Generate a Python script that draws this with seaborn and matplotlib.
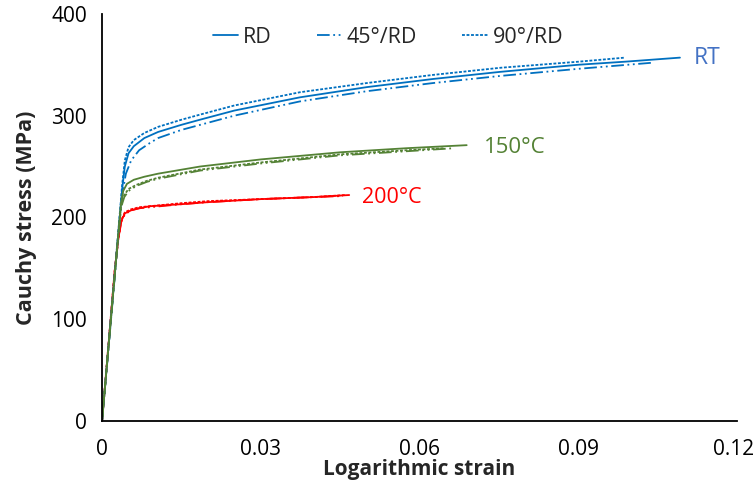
import pandas as pd
import matplotlib
matplotlib.use("Agg")
import matplotlib.pyplot as plt
import matplotlib.transforms as mtransforms
from matplotlib.lines import Line2D
import seaborn as sns

# --- Curve data (strain, Cauchy stress in MPa) ---
rt_rd_strain = [0, 0.0015, 0.003, 0.0038, 0.0043, 0.005, 0.006, 0.008, 0.0106, 0.015, 0.0185,
                0.025, 0.0374, 0.05, 0.0625, 0.0752, 0.09, 0.0988, 0.1092]
rt_rd_stress = [0, 90, 180, 228, 250, 263, 270, 278, 284, 291, 296, 305, 318, 328, 336, 343, 350, 353, 357]

rt_45_strain = [0, 0.0015, 0.003, 0.0038, 0.0045, 0.0055, 0.007, 0.009, 0.0106, 0.015, 0.02,
                0.025, 0.0374, 0.05, 0.0625, 0.0752, 0.09, 0.104]
rt_45_stress = [0, 88, 178, 222, 243, 256, 266, 273, 278, 286, 293, 300, 314, 324, 332, 339, 346, 352]

rt_90_strain = [0, 0.0015, 0.003, 0.0038, 0.0043, 0.005, 0.006, 0.008, 0.0106, 0.015, 0.0185,
                0.025, 0.0374, 0.05, 0.0625, 0.0752, 0.09, 0.0988]
rt_90_stress = [0, 92, 182, 232, 256, 269, 276, 283, 289, 296, 301, 310, 323, 332, 340, 347, 353, 357]

t150_rd_strain = [0, 0.0015, 0.003, 0.0036, 0.004, 0.0047, 0.006, 0.008, 0.0106, 0.0185, 0.03,
                  0.045, 0.0575, 0.0689]
t150_rd_stress = [0, 90, 180, 215, 226, 233, 237, 240, 243, 250, 257, 264, 268, 271]

t150_45_strain = [0, 0.0015, 0.003, 0.0036, 0.0042, 0.005, 0.0065, 0.0085, 0.0106, 0.0185, 0.03,
                  0.045, 0.0575, 0.0665]
t150_45_stress = [0, 90, 178, 210, 220, 226, 231, 235, 238, 246, 253, 261, 265, 268]

t150_90_strain = [0, 0.0015, 0.003, 0.0036, 0.0042, 0.005, 0.0065, 0.0085, 0.0106, 0.0185, 0.03,
                  0.045, 0.0575, 0.0648]
t150_90_stress = [0, 90, 179, 212, 222, 228, 232, 236, 239, 247, 254, 262, 266, 268]

t200_rd_strain = [0, 0.0015, 0.0024, 0.003, 0.0036, 0.0043, 0.0055, 0.007, 0.009, 0.015, 0.02,
                  0.03, 0.04, 0.0467]
t200_rd_stress = [0, 92, 148, 176, 196, 204, 207, 209, 211, 213, 215, 218, 220, 222]

t200_45_strain = [0, 0.0015, 0.0024, 0.003, 0.0036, 0.0043, 0.0055, 0.007, 0.009, 0.015, 0.02,
                  0.03, 0.04, 0.0455]
t200_45_stress = [0, 91, 147, 175, 195, 203, 207, 209, 210, 213, 215, 218, 220, 221]

t200_90_strain = [0, 0.0015, 0.0024, 0.003, 0.0036, 0.0043, 0.0055, 0.007, 0.009, 0.015, 0.02,
                  0.03, 0.04, 0.046]
t200_90_stress = [0, 93, 149, 177, 197, 205, 208, 210, 211, 214, 216, 218, 220, 222]

temperatures = ["200°C", "RT", "150°C"]
directions = ["RD", "45°/RD", "90°/RD"]
x_ticks = [0, 0.03, 0.06, 0.09, 0.12]
x_tick_labels = ["0", "0.03", "0.06", "0.09", "0.12"]
y_ticks = [0, 100, 200, 300, 400]

# --- Long-form table ---
curves = [
    ("RT", "RD", rt_rd_strain, rt_rd_stress),
    ("RT", "45°/RD", rt_45_strain, rt_45_stress),
    ("RT", "90°/RD", rt_90_strain, rt_90_stress),
    ("150°C", "RD", t150_rd_strain, t150_rd_stress),
    ("150°C", "45°/RD", t150_45_strain, t150_45_stress),
    ("150°C", "90°/RD", t150_90_strain, t150_90_stress),
    ("200°C", "RD", t200_rd_strain, t200_rd_stress),
    ("200°C", "45°/RD", t200_45_strain, t200_45_stress),
    ("200°C", "90°/RD", t200_90_strain, t200_90_stress),
]
frames = []
for temp, direc, eps, sig in curves:
    frames.append(pd.DataFrame({"strain": eps, "stress": sig, "Temp": temp, "Direction": direc}))
df = pd.concat(frames, ignore_index=True)

# --- Style ---
sns.set_style("white")
plt.rcParams["font.family"] = ["Open Sans", "DejaVu Sans"]

line_colors = {"RT": "#0070C0", "150°C": "#548235", "200°C": "#FF0000"}
label_colors = {"RT": "#4472C4", "150°C": "#548235", "200°C": "#FF0000"}
dash_styles = {"RD": "", "45°/RD": (7, 2, 1, 2, 1, 2), "90°/RD": (1.6, 0.9)}

fig, ax = plt.subplots(figsize=(7.56, 4.95), dpi=100)
fig.subplots_adjust(left=0.135, right=0.975, top=0.972, bottom=0.1495)

sns.lineplot(
    data=df, x="strain", y="stress",
    hue="Temp", hue_order=temperatures, palette=line_colors,
    style="Direction", style_order=directions, dashes=dash_styles,
    estimator=None, sort=False, linewidth=1.3, legend=False, ax=ax
)

ax.set_xlim(0, 0.12)
ax.set_ylim(0, 400)
ax.set_xticks(x_ticks)
ax.set_xticklabels(x_tick_labels)
ax.set_yticks(y_ticks)
ax.tick_params(direction="in", length=6, width=1.2, color="#7f7f7f",
               labelsize=15, labelcolor="black")
ax.tick_params(axis="x", pad=13)
ax.tick_params(axis="y", pad=11)
for side in ["top", "right"]:
    ax.spines[side].set_visible(False)
for side in ["left", "bottom"]:
    ax.spines[side].set_color("black")
    ax.spines[side].set_linewidth(1.3)

# keep the last x tick label inside the figure edge
last = ax.get_xticklabels()[-1]
last.set_transform(last.get_transform() + mtransforms.ScaledTranslation(-4 / 100, 0, fig.dpi_scale_trans))

ax.set_xlabel("Logarithmic strain", fontsize=15, fontweight="bold", labelpad=-1)
ax.set_ylabel("Cauchy stress (MPa)", fontsize=15.5, fontweight="bold", labelpad=10)

# --- Temperature labels at curve ends ---
ax.text(0.1118, 357, "RT", color=label_colors["RT"], fontsize=16.5, va="center")
ax.text(0.0722, 269, "150°C", color=label_colors["150°C"], fontsize=16, va="center")
ax.text(0.0492, 220, "200°C", color=label_colors["200°C"], fontsize=15.5, va="center")

# --- Legend (directions only, drawn in blue) ---
handles = [
    Line2D([0], [0], color=line_colors["RT"], lw=1.3, linestyle="-"),
    Line2D([0], [0], color=line_colors["RT"], lw=1.3, dashes=dash_styles["45°/RD"]),
    Line2D([0], [0], color=line_colors["RT"], lw=1.3, dashes=dash_styles["90°/RD"]),
]
ax.legend(handles, directions, ncol=3, frameon=False, loc="center",
          bbox_to_anchor=(0.45, 0.943), fontsize=15.5, handlelength=1.2,
          handletextpad=0.2, columnspacing=2.1)

plt.savefig("out.png", dpi=100)
